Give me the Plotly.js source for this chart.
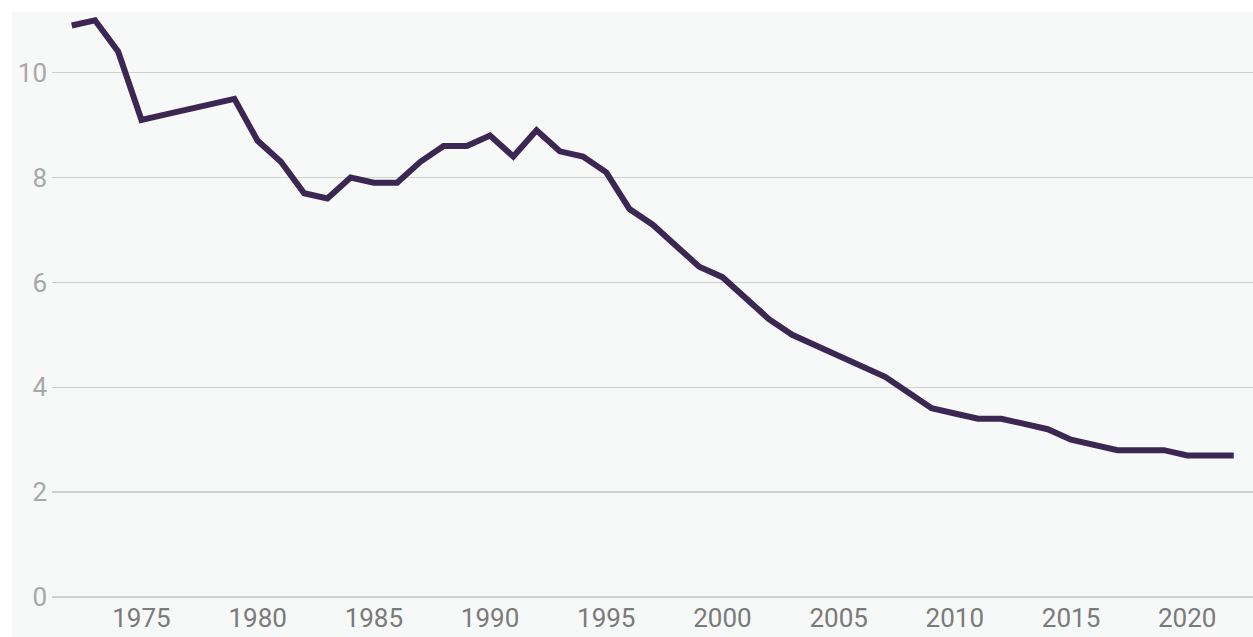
<!DOCTYPE html>
<html>
<head>
<meta charset="utf-8">
<script src="https://cdn.plot.ly/plotly-3.0.1.min.js"></script>
<style>
  html, body { margin: 0; padding: 0; background: #ffffff; }
  #wrap { position: absolute; left: 12px; top: 12px; width: 1241px; height: 625px; background: #f7f8f8; }
  #chart { width: 1241px; height: 625px; }
</style>
</head>
<body>
<div id="wrap"><div id="chart"></div></div>
<script>
const years = [1972, 1973, 1974, 1975, 1976, 1977, 1978, 1979, 1980, 1981,
               1982, 1983, 1984, 1985, 1986, 1987, 1988, 1989, 1990, 1991,
               1992, 1993, 1994, 1995, 1996, 1997, 1998, 1999, 2000, 2001,
               2002, 2003, 2004, 2005, 2006, 2007, 2008, 2009, 2010, 2011,
               2012, 2013, 2014, 2015, 2016, 2017, 2018, 2019, 2020, 2021, 2022];
const values = [10.9, 11.0, 10.4, 9.1, 9.2, 9.3, 9.4, 9.5, 8.7, 8.3,
                7.7, 7.6, 8.0, 7.9, 7.9, 8.3, 8.6, 8.6, 8.8, 8.4,
                8.9, 8.5, 8.4, 8.1, 7.4, 7.1, 6.7, 6.3, 6.1, 5.7,
                5.3, 5.0, 4.8, 4.6, 4.4, 4.2, 3.9, 3.6, 3.5, 3.4,
                3.4, 3.3, 3.2, 3.0, 2.9, 2.8, 2.8, 2.8, 2.7, 2.7, 2.7];
const yTicks = [0, 2, 4, 6, 8, 10];
const xTicks = [1975, 1980, 1985, 1990, 1995, 2000, 2005, 2010, 2015, 2020];

const trace = {
  x: years,
  y: values,
  type: 'scatter',
  mode: 'lines',
  line: { color: '#3b2752', width: 6 },
  hoverinfo: 'x+y'
};

const layout = {
  width: 1241,
  height: 625,
  margin: { l: 40, r: 0, t: 3, b: 40 },
  paper_bgcolor: '#f7f8f8',
  plot_bgcolor: '#f7f8f8',
  showlegend: false,
  font: { family: 'Roboto, "Open Sans", sans-serif' },
  xaxis: {
    range: [1971.15, 2022.83],
    tickmode: 'array',
    tickvals: xTicks,
    ticktext: xTicks.map(String),
    showgrid: false,
    zeroline: false,
    showline: false,
    ticks: '',
    tickfont: { size: 26, color: '#7a7a7a' },
    ticklabelstandoff: 3,
    fixedrange: true
  },
  yaxis: {
    range: [0, 11.1],
    tickmode: 'array',
    tickvals: yTicks,
    ticktext: yTicks.map(String),
    showgrid: true,
    gridcolor: '#d0d0d0',
    gridwidth: 1.5,
    zeroline: true,
    zerolinecolor: '#d0d0d0',
    zerolinewidth: 1.5,
    showline: false,
    ticks: '',
    tickfont: { size: 26, color: '#a8a8a8' },
    ticklabelstandoff: 4,
    fixedrange: true
  }
};

Plotly.newPlot('chart', [trace], layout, { displayModeBar: false, staticPlot: true });
</script>
</body>
</html>
